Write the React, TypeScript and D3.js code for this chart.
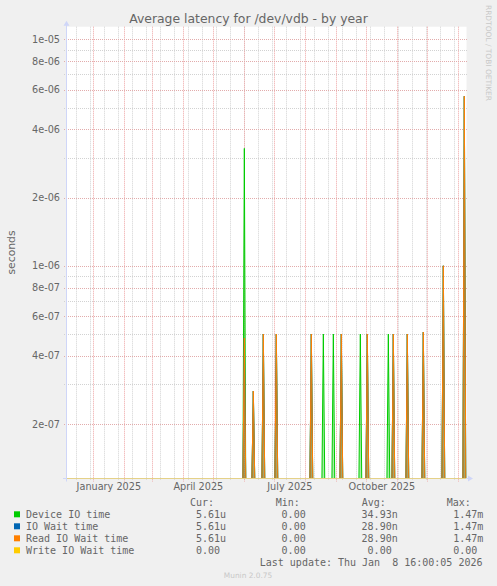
import * as d3 from "d3";

// spike days (year graph = 400 days, 1 px per day)
const spikeDays = [
  "2025-06-01", "2025-06-10", "2025-06-20", "2025-07-03", "2025-08-07",
  "2025-08-19", "2025-08-29", "2025-09-06", "2025-09-25", "2025-10-02",
  "2025-10-23", "2025-10-28", "2025-11-11", "2025-11-27", "2025-12-17",
  "2026-01-07",
];
const deviceIO = [3.3e-6, 2.8e-7, 5.0e-7, 5.0e-7, 5.0e-7, 5.0e-7, 5.0e-7, 5.0e-7, 5.0e-7, 5.0e-7, 5.0e-7, 5.0e-7, 5.0e-7, 5.1e-7, 1.0e-6, 5.61e-6];
const ioWait = [4.8e-7, 2.8e-7, 5.0e-7, 5.0e-7, 5.0e-7, 0, 0, 5.0e-7, 0, 5.0e-7, 0, 5.0e-7, 5.0e-7, 5.1e-7, 1.0e-6, 5.61e-6];
const readWait = [4.8e-7, 2.8e-7, 5.0e-7, 5.0e-7, 5.0e-7, 0, 0, 5.0e-7, 0, 5.0e-7, 0, 5.0e-7, 5.0e-7, 5.1e-7, 1.0e-6, 5.61e-6];
const writeWait = [0, 0, 0, 0, 0, 0, 0, 0, 0, 0, 0, 0, 0, 0, 0, 0];

const seriesNames = ["Device IO time", "IO Wait time", "Read IO Wait time", "Write IO Wait time"];
const seriesColors = ["#00cc00", "#0066b3", "#ff8000", "#ffcc00"];
const curValues = ["5.61u", "5.61u", "5.61u", "0.00"];
const minValues = ["0.00", "0.00", "0.00", "0.00"];
const avgValues = ["34.93n", "28.90n", "28.90n", "0.00"];
const maxValues = ["1.47m", "1.47m", "1.47m", "0.00"];

const majorTicks = [1e-5, 8e-6, 6e-6, 4e-6, 2e-6, 1e-6, 8e-7, 6e-7, 4e-7, 2e-7];
const majorLabels = ["1e-05", "8e-06", "6e-06", "4e-06", "2e-06", "1e-06", "8e-07", "6e-07", "4e-07", "2e-07"];
const minorTicks = [9e-6, 7e-6, 5e-6, 3e-6, 9e-7, 7e-7, 5e-7, 3e-7];
const monthLabels = ["January 2025", "April 2025", "July 2025", "October 2025"];
const labelMonths = ["2025-01-01", "2025-04-01", "2025-07-01", "2025-10-01"];

const W = 497;
const H = 586;
const left = 66;
const right = 466;
const top = 26.7;
const bottom = 478.5;

const parseDay = (s: string) => {
  const [y, m, d] = s.split("-").map(Number);
  return new Date(y, m - 1, d);
};

const start = new Date(2024, 11, 4, 16);
const end = new Date(2026, 0, 8, 16);

const x = d3.scaleTime().domain([start, end]).range([left, right]);
const y = d3.scaleLog().domain([1.151e-7, 1.137e-5]).range([bottom, top]);

const px = (v: number) => Math.round(v) + 0.5;

const FONT = "DejaVu Sans, sans-serif";
const MONO = "DejaVu Sans Mono, monospace";
const TXT = "#666666";

const monthLines = d3.timeMonth.range(d3.timeMonth.ceil(start), end);
const minorDays = d3.range(0, 30).map((i) => d3.timeDay.offset(new Date(2024, 11, 15), i * 14)).filter((d) => d < end);

const spike = d3.line<[number, number]>();

function Spikes({ values, color }: { values: number[]; color: string }) {
  return (
    <g>
      {values.map((v, i) => {
        if (v <= 0) return null;
        const cx = x(parseDay(spikeDays[i]));
        const d = spike([
          [cx - 1.4, bottom],
          [cx, y(v)],
          [cx + 1.4, bottom],
        ]);
        return (
          <path key={i} d={d ?? ""} fill={color} fillOpacity={0.35} stroke={color} strokeWidth={1} />
        );
      })}
    </g>
  );
}

function splitValue(s: string) {
  const m = s.match(/^([\d.]+)(.*)$/);
  return m ? [m[1], m[2]] : [s, ""];
}

export default function App() {
  const colEnds = [220, 305.7, 391.7, 477.3];
  const headers = ["Cur:", "Min:", "Avg:", "Max:"];
  const headerX = [190, 275.7, 361.7, 446.7];
  const cols = [curValues, minValues, avgValues, maxValues];

  return (
    <svg
      width={W}
      height={H}
      style={{ position: "absolute", left: 0, top: 0, display: "block", background: "#f0f0f0" }}
    >
      <rect x={0} y={0} width={W} height={H} fill="#f0f0f0" />
      <rect x={left + 0.5} y={top} width={right - left} height={bottom - top} fill="#ffffff" />

      {/* minor grid */}
      {minorDays.map((d, i) => (
        <line key={"mv" + i} x1={px(x(d))} x2={px(x(d))} y1={top} y2={bottom + 2} stroke="#d2d2d2" strokeDasharray="1,1" />
      ))}
      {minorTicks.map((t, i) => (
        <line key={"mh" + i} x1={left - 2} x2={right + 1} y1={px(y(t))} y2={px(y(t))} stroke="#d2d2d2" strokeDasharray="1,1" />
      ))}
      {/* major grid */}
      {monthLines.map((d, i) => (
        <line key={"Mv" + i} x1={px(x(d))} x2={px(x(d))} y1={top} y2={bottom + 3} stroke="#eea4a4" strokeDasharray="1,1" />
      ))}
      {majorTicks.map((t, i) => (
        <line key={"Mh" + i} x1={left - 2} x2={right + 1} y1={px(y(t))} y2={px(y(t))} stroke="#e2acac" strokeDasharray="1,1" />
      ))}

      {/* series */}
      <Spikes values={deviceIO} color={seriesColors[0]} />
      <Spikes values={ioWait} color={seriesColors[1]} />
      <Spikes values={readWait} color={seriesColors[2]} />
      <Spikes values={writeWait} color={seriesColors[3]} />

      {/* axes */}
      <line x1={left - 3} x2={right + 3} y1={bottom} y2={bottom} stroke="#cfd6f8" />
      <line x1={left + 0.5} x2={right} y1={bottom} y2={bottom} stroke="#ffcc00" strokeOpacity={0.45} />
      <line x1={left + 0.5} x2={left + 0.5} y1={top - 3} y2={bottom + 3} stroke="#cfd6f8" />
      <path d={`M${left - 2.5},${top - 1} L${left + 3.5},${top - 1} L${left + 0.5},${top - 6} Z`} fill="#cfd6f8" />
      <path d={`M${right + 2},${bottom - 3} L${right + 2},${bottom + 3} L${right + 7},${bottom} Z`} fill="#cfd6f8" />

      {/* y labels */}
      {majorTicks.map((t, i) => (
        <text key={"yl" + i} x={60} y={y(t)} dy="0.36em" textAnchor="end" fontFamily={FONT} fontSize={9.7} fill={TXT}>
          {majorLabels[i]}
        </text>
      ))}
      {/* x labels, centred on the month */}
      {labelMonths.map((m, i) => {
        const s = parseDay(m);
        const cx = (x(s) + x(d3.timeMonth.offset(s, 1))) / 2;
        return (
          <text key={"xl" + i} x={cx} y={490} textAnchor="middle" fontFamily={FONT} fontSize={9.7} fill={TXT}>
            {monthLabels[i]}
          </text>
        );
      })}

      <text x={248.5} y={23.3} textAnchor="middle" fontFamily={FONT} fontSize={12.4} fill={TXT}>
        Average latency for /dev/vdb - by year
      </text>
      <text transform="translate(14.5,252.5) rotate(-90)" textAnchor="middle" fontFamily={FONT} fontSize={10.8} fill={TXT}>
        seconds
      </text>
      <text transform="translate(485.5,5) rotate(90)" fontFamily={FONT} fontSize={7.4} fill="#c8c8c8" textLength={96} lengthAdjust="spacingAndGlyphs">
        RRDTOOL / TOBI OETIKER
      </text>

      {/* legend */}
      {headers.map((h, i) => (
        <text key={"h" + i} x={headerX[i]} y={506.3} fontFamily={MONO} fontSize={10} fill={TXT}>
          {h}
        </text>
      ))}
      {seriesNames.map((name, r) => {
        const yy = 518.3 + r * 12;
        return (
          <g key={"lg" + r}>
            <rect x={14} y={yy - 7} width={6} height={6} fill={seriesColors[r]} />
            <text x={26} y={yy} fontFamily={MONO} fontSize={10} fill={TXT}>
              {name}
            </text>
            {cols.map((col, c) => {
              const [num, unit] = splitValue(col[r]);
              return (
                <g key={c}>
                  <text x={colEnds[c]} y={yy} textAnchor="end" fontFamily={MONO} fontSize={10} fill={TXT}>
                    {num}
                  </text>
                  {unit && (
                    <text x={colEnds[c]} y={yy} fontFamily={MONO} fontSize={10} fill={TXT}>
                      {unit}
                    </text>
                  )}
                </g>
              );
            })}
          </g>
        );
      })}
      <text x={482.5} y={565.7} textAnchor="end" fontFamily={MONO} fontSize={10} fill={TXT} style={{ whiteSpace: "pre" }}>
        {"Last update: Thu Jan  8 16:00:05 2026"}
      </text>
      <text x={248} y={578.3} textAnchor="middle" fontFamily={FONT} fontSize={7.4} fill="#c8c8c8">
        Munin 2.0.75
      </text>
    </svg>
  );
}
